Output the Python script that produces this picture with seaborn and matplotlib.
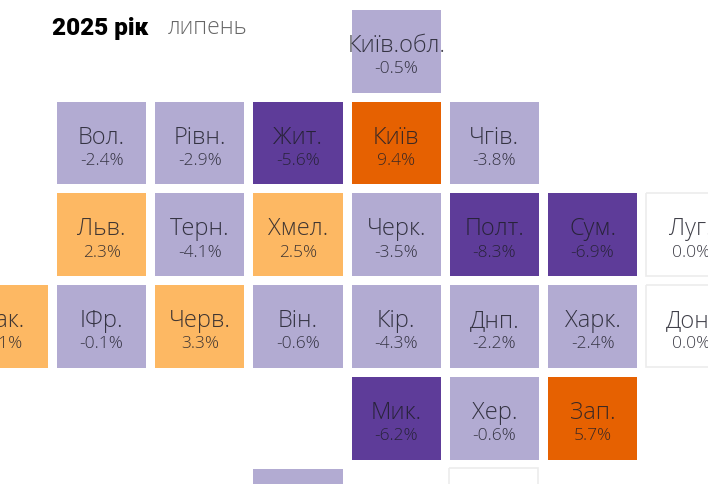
#Tile map of regions, change in percent
import numpy as np
import pandas as pd
import matplotlib
matplotlib.use('Agg')
import matplotlib.pyplot as plt
from matplotlib.colors import ListedColormap, BoundaryNorm
from matplotlib.patches import Rectangle
import seaborn as sns

#Tile grid, None = no region there. The last row is cut off by the picture edge
names = [
    [None, None, None, None, 'Київ.обл.', None, None, None],
    [None, 'Вол.', 'Рівн.', 'Жит.', 'Київ', 'Чгів.', None, None],
    [None, 'Льв.', 'Терн.', 'Хмел.', 'Черк.', 'Полт.', 'Сум.', 'Луг.'],
    ['Зак.', 'ІФр.', 'Черв.', 'Він.', 'Кір.', 'Днп.', 'Харк.', 'Дон.'],
    [None, None, None, None, 'Мик.', 'Хер.', 'Зап.', None],
    [None, None, None, 'Од.', None, 'Крим', None, None],
]
values = [
    [None, None, None, None, -0.5, None, None, None],
    [None, -2.4, -2.9, -5.6, 9.4, -3.8, None, None],
    [None, 2.3, -4.1, 2.5, -3.5, -8.3, -6.9, 0.0],
    [1.1, -0.1, 3.3, -0.6, -4.3, -2.2, -2.4, 0.0],
    [None, None, None, None, -6.2, -0.6, 5.7, None],
    [None, None, None, -1.0, None, 0.0, None, None],
]
bounds = [-10, -5, -0.01, 0.01, 5, 10]
colors = ['#5e3c99', '#b2abd2', '#ffffff', '#fdb863', '#e66101']

df = pd.DataFrame(values, dtype=float)

sns.set_theme(style='white')
plt.rcParams['font.family'] = ['Open Sans', 'DejaVu Sans']

W, H = 708, 485
fig = plt.figure(figsize=(W / 100, H / 100), dpi=100)
#Axes runs past the picture on the left, right and bottom, the tiles get cut there
ax = fig.add_axes([-46.2 / W, 1 - (6.0 + 6 * 91.7) / H, 8 * 98.2 / W, 6 * 91.7 / H])
sns.heatmap(df, ax=ax, cmap=ListedColormap(colors), norm=BoundaryNorm(bounds, len(colors)),
            cbar=False, linewidths=6.2, linecolor='white', xticklabels=False, yticklabels=False)

for r in range(df.shape[0]):
    for c in range(df.shape[1]):
        v = df.iloc[r, c]
        if np.isnan(v):
            continue
        #Empty regions only have a pale outline
        if v == 0:
            ax.add_patch(Rectangle((c + 0.046, r + 0.05), 0.908, 0.9, fill=False,
                                   edgecolor='#ececec', linewidth=1.2))
        ax.text(c + 0.505, r + 0.435, names[r][c], ha='center', va='center', fontsize=17,
                color='#1f1f2a', alpha=0.85, fontweight='light')
        ax.text(c + 0.505, r + 0.69, '%.1f%%' % v, ha='center', va='center', fontsize=12.5,
                color='#1f1f2a', alpha=0.85, fontweight='light')

fig.text(52 / W, 1 - 28 / H, '2025 рік', fontsize=17.5, fontweight='black', color='black',
         family=['Roboto', 'DejaVu Sans'], va='center', ha='left')
fig.text(168 / W, 1 - 28 / H, 'липень', fontsize=16.5, color='#666666', va='center', ha='left',
         fontweight='light')

fig.savefig('out.png', dpi=100)
